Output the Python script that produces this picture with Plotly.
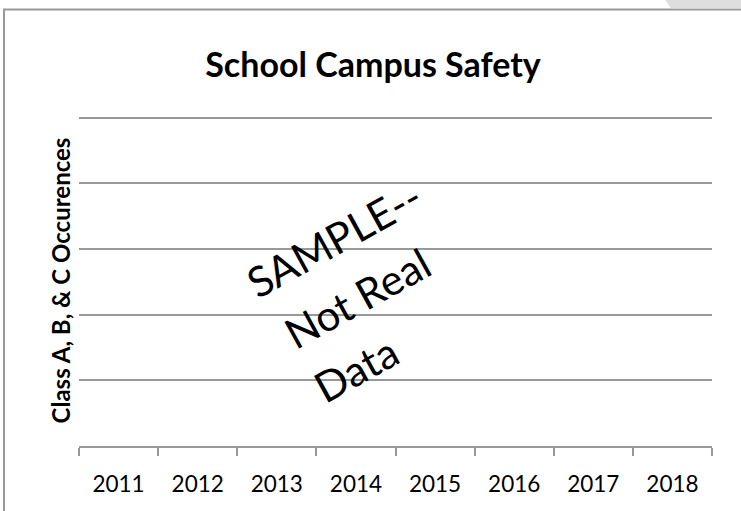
import plotly.graph_objects as go

categories = ["2011", "2012", "2013", "2014", "2015", "2016", "2017", "2018"]
occurrences = [None, None, None, None, None, None, None, None]
title_text = "School Campus Safety"
y_title = "Class A, B, & C Occurences"
watermark_lines = ["SAMPLE--", "Not Real", "Data"]

W, H = 741, 511
YMAX = 5.04
L, R, B = 79, 712, 446
T = B - 65.6 * YMAX

def px(x):
    return (x - L) / (R - L)

def py(y):
    return (B - y) / (B - T)

fig = go.Figure()
fig.add_trace(go.Scatter(x=categories, y=occurrences, mode="lines+markers",
                         line=dict(color="#4472C4"), showlegend=False))

fig.update_layout(
    width=W, height=H,
    margin=dict(l=L, r=W - R, t=T, b=H - B, autoexpand=False),
    paper_bgcolor="white", plot_bgcolor="white",
    font=dict(family="Lato", color="black"),
    title=dict(text="<b>%s</b>" % title_text, x=(205 + 541) / 2 / W, xref="container",
               y=1 - 65 / H, yref="container", yanchor="middle",
               xanchor="center", font=dict(size=34, family="Lato")),
    xaxis=dict(type="category", categoryorder="array", categoryarray=categories,
               range=[-0.5, 7.5], showgrid=False, showline=True,
               linecolor="#989898", linewidth=1.5, ticks="outside",
               tickson="boundaries", ticklen=8, tickcolor="#989898",
               tickwidth=1.5, tickfont=dict(size=22.5, family="Lato"),
               ticklabelstandoff=17, zeroline=False, fixedrange=True,
               automargin=False),
    yaxis=dict(range=[0, YMAX], dtick=1, showgrid=True, gridcolor="#989898",
               gridwidth=1.5, showticklabels=False, zeroline=False,
               showline=False, ticks="", fixedrange=True, automargin=False,
               title=dict(text="<b>%s</b>" % y_title, standoff=0,
                          font=dict(size=24, family="Lato"))),
)

# watermark: three left-aligned lines, rotated
centers = [(334, 239), (357, 298), (356, 369)]
for line, (cx, cy) in zip(watermark_lines, centers):
    fig.add_annotation(text=line, x=px(cx), y=py(cy), xref="paper", yref="paper",
                       showarrow=False, textangle=-29, xanchor="center", yanchor="middle",
                       font=dict(size=42, family="Lato", color="black"))

# chart frame
fig.add_shape(type="rect", xref="paper", yref="paper",
              x0=px(4), x1=px(748), y0=py(10), y1=py(520),
              line=dict(color="#999999", width=2), fillcolor="rgba(0,0,0,0)",
              layer="below")
# gray corner tab
fig.add_shape(type="path", xref="paper", yref="paper",
              path="M %f,%f L %f,%f L %f,%f L %f,%f Z" % (
                  px(665), py(0), px(741), py(0), px(741), py(9), px(671), py(9)),
              fillcolor="#dedede", line=dict(width=0), layer="below")

fig.write_html("out.html", config={"displayModeBar": False},
               post_script="document.body.style.margin='0';")
